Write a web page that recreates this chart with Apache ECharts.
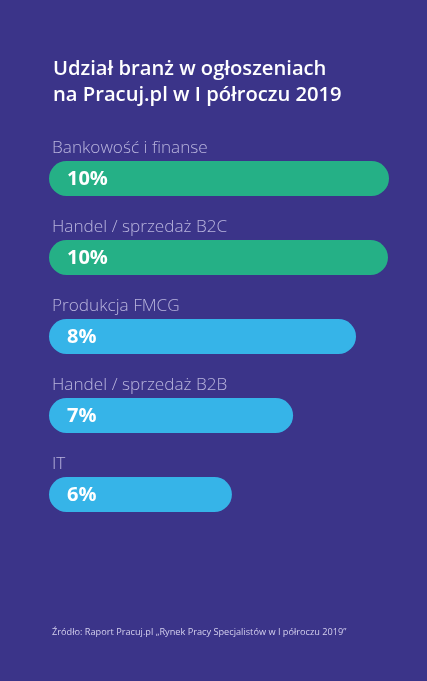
<!DOCTYPE html>
<html>
<head>
<meta charset="utf-8">
<script src="https://cdn.jsdelivr.net/npm/echarts@6/dist/echarts.min.js"></script>
<style>
  html, body { margin: 0; padding: 0; background: #3b3489; }
  #chart { width: 427px; height: 681px; }
</style>
</head>
<body>
<div id="chart"></div>
<script>
const categories = ['Bankowość i finanse', 'Handel / sprzedaż B2C', 'Produkcja FMCG', 'Handel / sprzedaż B2B', 'IT'];
// printed shares (label text)
const shares = [10, 10, 8, 7, 6];
// bar lengths as drawn in the picture (not strictly proportional to the printed shares)
const barLengths = [10, 9.97, 9.03, 7.18, 5.38];
const barColors = ['#25b086', '#25b086', '#36b4e8', '#36b4e8', '#36b4e8'];

const chart = echarts.init(document.getElementById('chart'));
const option = {
  backgroundColor: '#3b3489',
  title: [
    {
      text: 'Udział branż w ogłoszeniach\nna Pracuj.pl w I półroczu 2019',
      left: 53,
      top: 56,
      padding: 0,
      textStyle: {
        color: '#ffffff',
        fontFamily: 'Open Sans',
        fontSize: 20.2,
        fontWeight: 600,
        lineHeight: 26
      }
    },
    {
      text: 'Źródło: Raport Pracuj.pl „Rynek Pracy Specjalistów w I półroczu 2019”',
      left: 52,
      top: 628,
      padding: 0,
      textStyle: {
        color: '#d4d0ee',
        fontFamily: 'Open Sans',
        fontSize: 9.2,
        fontWeight: 'normal'
      }
    }
  ],
  grid: {
    left: 49,
    right: 38,
    top: 139,
    bottom: 147,
    containLabel: false
  },
  xAxis: {
    type: 'value',
    min: 0,
    max: 10,
    show: false
  },
  yAxis: {
    type: 'category',
    inverse: true,
    data: categories,
    axisLine: { show: false },
    axisTick: { show: false },
    splitLine: { show: false },
    axisLabel: { show: false }
  },
  series: [
    {
      type: 'bar',
      barWidth: 35,
      data: barLengths.map((v, i) => ({
        value: v,
        itemStyle: { color: barColors[i] }
      })),
      itemStyle: { borderRadius: 17.5 },
      label: {
        show: true,
        position: 'insideLeft',
        distance: 18,
        offset: [0, 1],
        formatter: p => shares[p.dataIndex] + '%',
        color: '#ffffff',
        fontFamily: 'Open Sans',
        fontSize: 20,
        fontWeight: 'bold'
      },
      silent: true
    },
    {
      // category names placed above each bar
      type: 'scatter',
      symbolSize: 0,
      data: categories.map(c => [0, c]),
      label: {
        show: true,
        position: 'right',
        distance: 0,
        offset: [3, -30],
        formatter: p => p.value[1],
        color: '#d8d4f2',
        fontFamily: 'Open Sans',
        fontSize: 17.2,
        fontWeight: 300
      },
      silent: true
    }
  ]
};
chart.setOption(option);
window.addEventListener('resize', () => chart.resize());
</script>
</body>
</html>
